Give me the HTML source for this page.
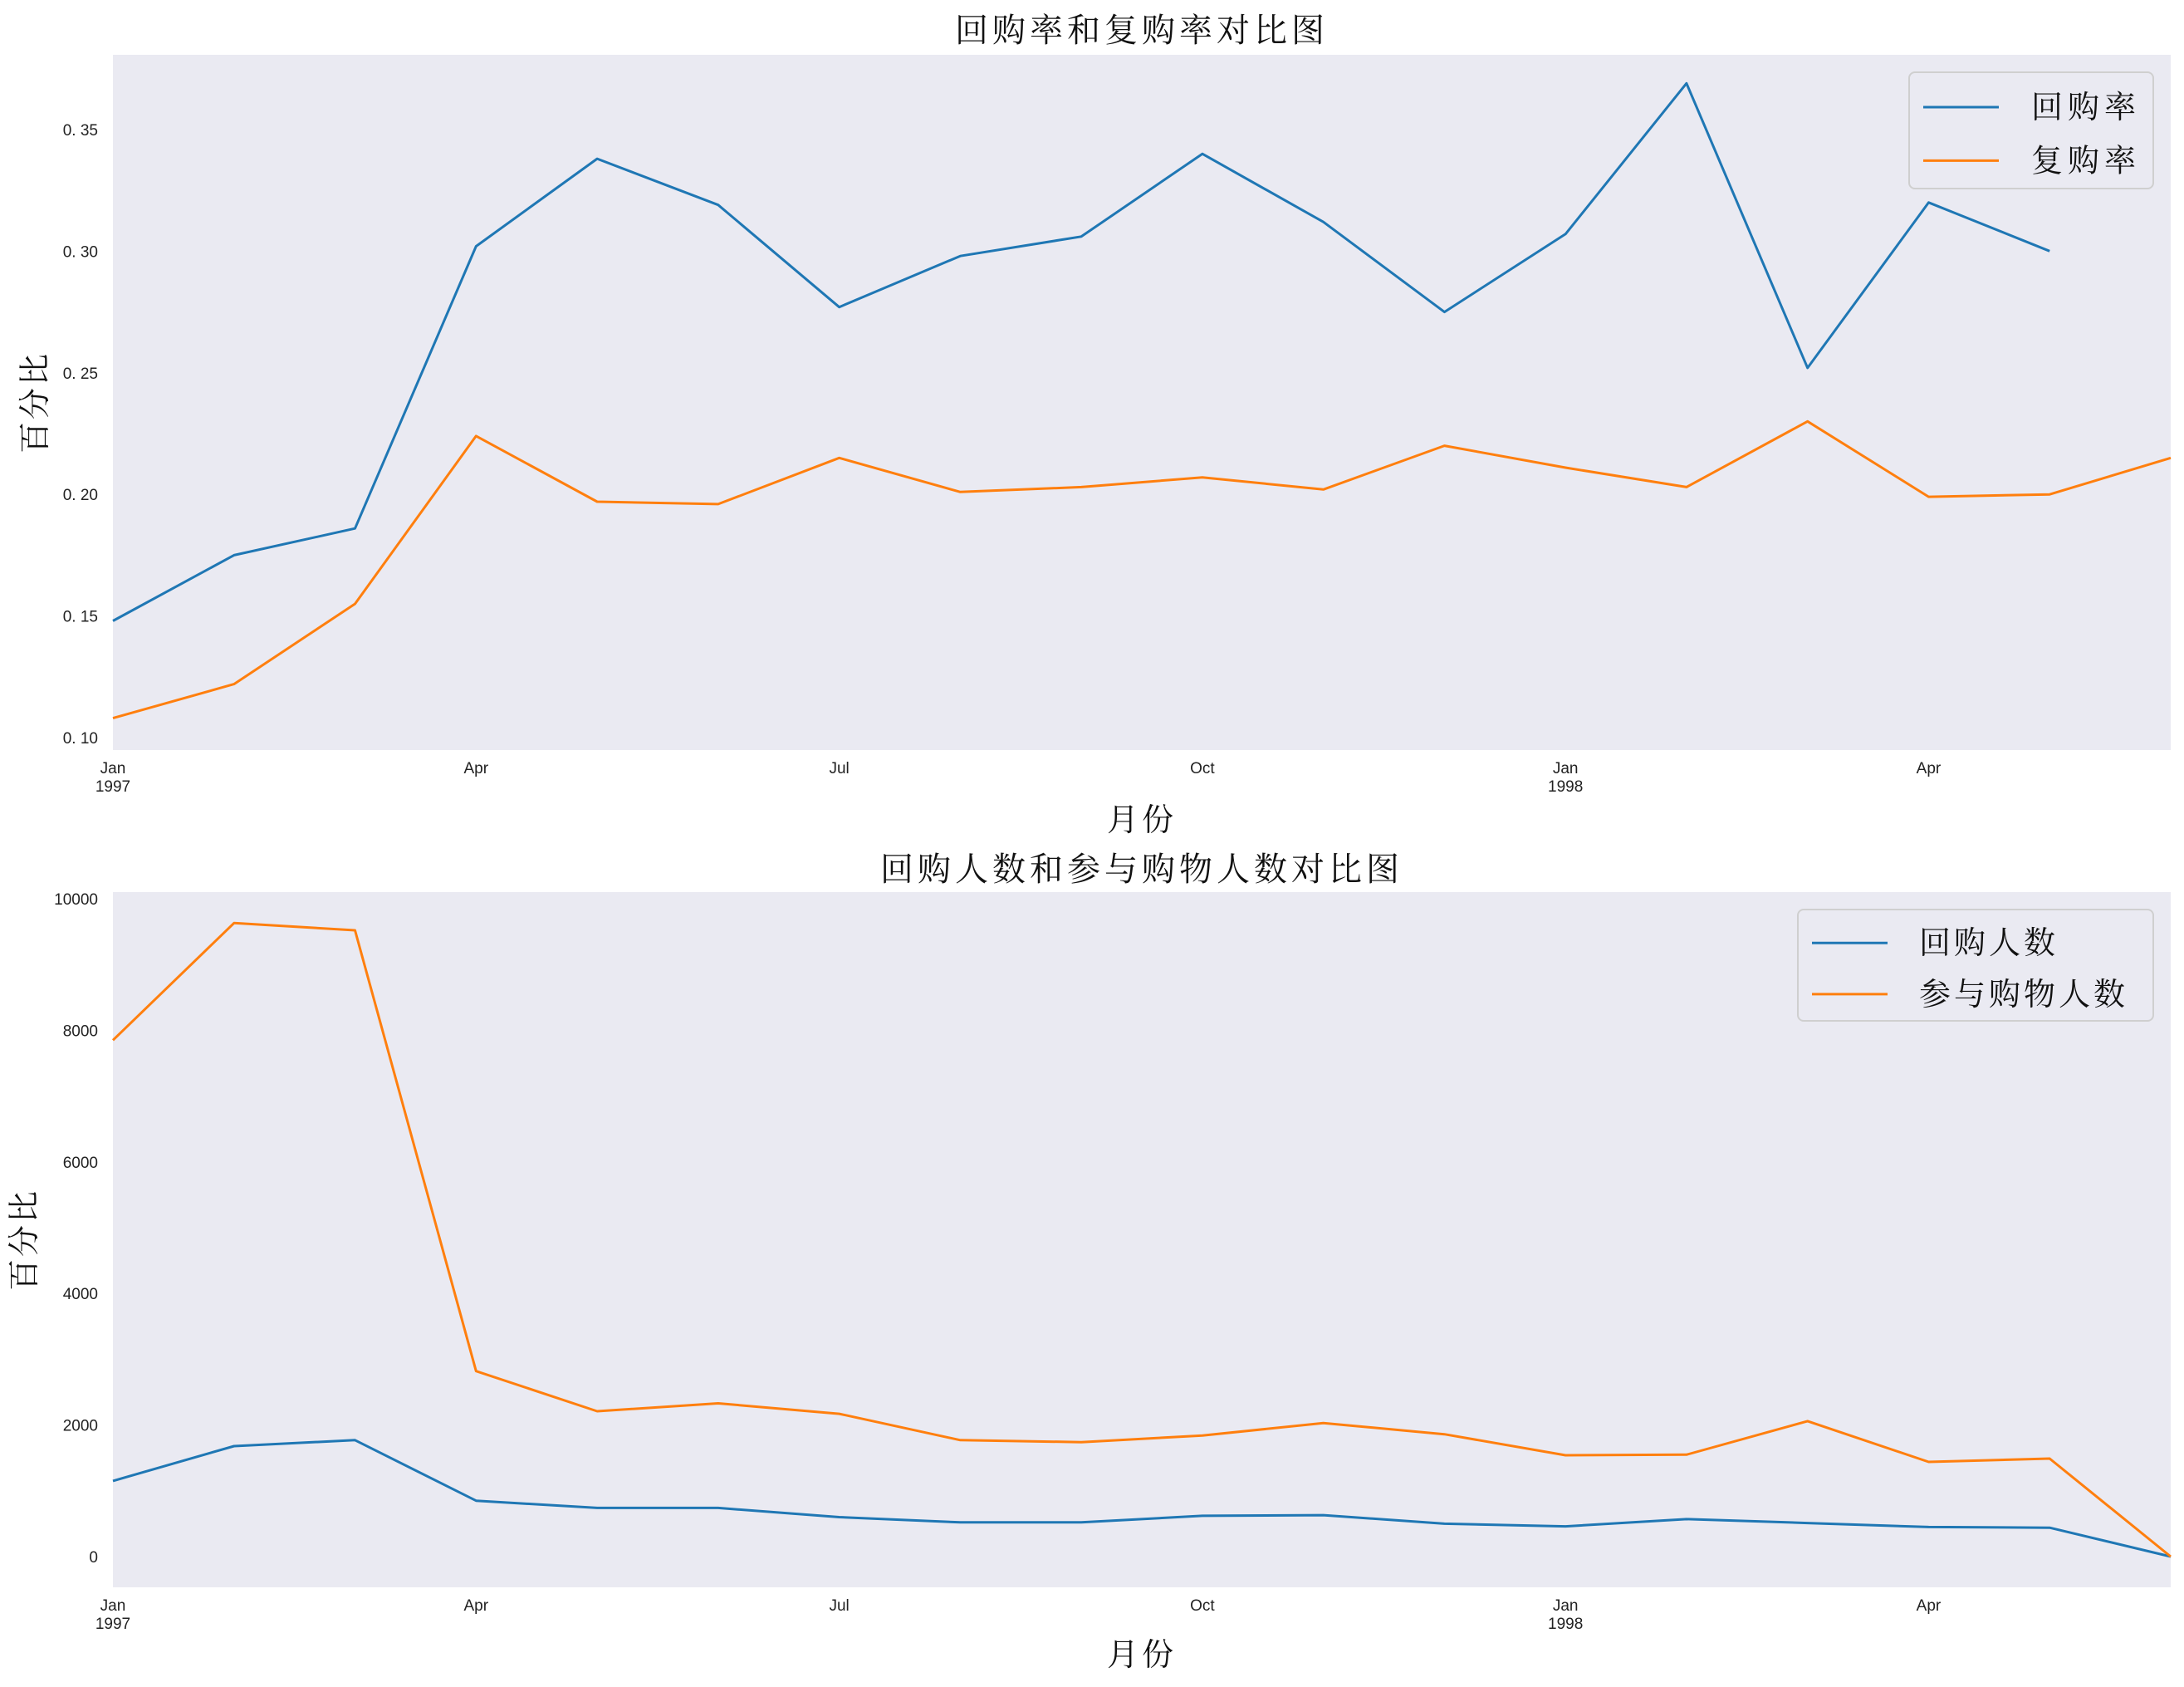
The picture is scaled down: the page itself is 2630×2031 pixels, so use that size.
<!DOCTYPE html>
<html><head><meta charset="utf-8"><style>
html,body{margin:0;padding:0;background:#fff;}
svg{display:block;}
.tick{font-family:"Liberation Sans","Noto Sans CJK SC",sans-serif;font-size:19px;fill:#222;}
.cjk{font-family:"Liberation Serif","Noto Serif CJK SC",serif;fill:#111;}
</style></head><body>
<svg id="chart" width="2630" height="2031" xmlns="http://www.w3.org/2000/svg">
</svg>
<script>
const months = ["1997-01","1997-02","1997-03","1997-04","1997-05","1997-06","1997-07","1997-08","1997-09","1997-10","1997-11","1997-12","1998-01","1998-02","1998-03","1998-04","1998-05","1998-06"];
const buybackRate = [0.148,0.175,0.186,0.302,0.338,0.319,0.277,0.298,0.306,0.340,0.312,0.275,0.307,0.369,0.252,0.320,0.300];
const repurchaseRate = [0.108,0.122,0.155,0.224,0.197,0.196,0.215,0.201,0.203,0.207,0.202,0.220,0.211,0.203,0.230,0.199,0.200,0.215];
const buybackUsers = [1150,1680,1770,850,740,740,600,520,520,620,630,500,460,570,510,450,440,0];
const shoppers = [7850,9630,9520,2820,2210,2330,2170,1770,1740,1840,2030,1860,1540,1550,2060,1440,1490,0];
const topTicks = [0.10,0.15,0.20,0.25,0.30,0.35];
const topTickLabels = ["0. 10","0. 15","0. 20","0. 25","0. 30","0. 35"];
const botTicks = [0,2000,4000,6000,8000,10000];
const xTickIdx = [0,3,6,9,12,15];
const xTickLabels = ["Jan","Apr","Jul","Oct","Jan","Apr"];
const xTickYears = ["1997","","","","1998",""];

const NS="http://www.w3.org/2000/svg";
const svg=document.getElementById('chart');
function el(tag,attrs,parent,text){const e=document.createElementNS(NS,tag);for(const k in attrs)e.setAttribute(k,attrs[k]);if(text!==undefined)e.textContent=text;(parent||svg).appendChild(e);return e;}

const X0=136,X1=2614;
function xs(i){return X0+(X1-X0)*i/17;}

function panel(cfg){
  const g=el('g',{});
  
  
  const ys=v=>cfg.top+(cfg.ymax-v)/(cfg.ymax-cfg.ymin)*(cfg.bot-cfg.top);
  const bg=el('rect',{x:X0,y:cfg.top,width:X1-X0,height:cfg.bot-cfg.top,fill:'#eaeaf2'},g);
  
  
  cfg.yticks.forEach((v,i)=>{
    const t=el('text',{x:X0-18,y:ys(v)+7,'text-anchor':'end',class:'tick'},g,cfg.ylabels[i]);
    
    
  });
  xTickIdx.forEach((m,i)=>{
    const t=el('text',{x:xs(m),y:cfg.bot+28,'text-anchor':'middle',class:'tick'},g,xTickLabels[i]);
    
    
    if(xTickYears[i]){
      const t2=el('text',{x:xs(m),y:cfg.bot+50,'text-anchor':'middle',class:'tick'},g,xTickYears[i]);
      
      
    }
  });
  cfg.series.forEach(s=>{
    const pts=s.data.map((v,i)=>xs(i).toFixed(1)+','+ys(v).toFixed(1)).join(' ');
    const p=el('polyline',{points:pts,fill:'none',stroke:s.color,'stroke-width':3,'stroke-linejoin':'round'},g);
    
    
  });
  const tt=el('text',{x:(X0+X1)/2,y:cfg.titleY,'text-anchor':'middle',class:'cjk','font-size':40,'letter-spacing':5},g,cfg.title);
  
  
  const xl=el('text',{x:(X0+X1)/2,y:cfg.xlabY,'text-anchor':'middle',class:'cjk','font-size':38,'letter-spacing':4},g,'月份');
  
  
  const cy=(cfg.top+cfg.bot)/2;
  const yl=el('text',{x:cfg.ylabX,y:cy,'text-anchor':'middle',class:'cjk','font-size':38,'letter-spacing':3,transform:`rotate(-90 ${cfg.ylabX} ${cy})`},g,'百分比');
  
  
  const L=cfg.legend;
  const lg=el('g',{},g);
  
  
  el('rect',{x:L.x,y:L.y,width:L.w,height:L.h,rx:7,fill:'#eaeaf2',stroke:'#cfcfcf','stroke-width':2},lg);
  cfg.series.forEach((s,i)=>{
    const yy=L.y+L.h*(0.3+0.46*i);
    el('line',{x1:L.x+17,x2:L.x+108,y1:yy,y2:yy,stroke:s.color,'stroke-width':3},lg);
    const t=el('text',{x:L.x+L.tx,y:yy+13,'text-anchor':'start',class:'cjk','font-size':38,'letter-spacing':L.ls},lg,s.label);
    
    
  });
}

panel({name:'rate-chart',top:66,bot:903,ymin:0.0949,ymax:0.3807,yticks:topTicks,ylabels:topTickLabels,
  title:'回购率和复购率对比图',titleY:50,xlabY:1000,ylabX:55,
  series:[{key:'buyback-rate-line',label:'回购率',color:'#1f77b4',data:buybackRate},{key:'repurchase-rate-line',label:'复购率',color:'#ff7f0e',data:repurchaseRate}],
  legend:{x:2299,y:87,w:294,h:140,tx:147,ls:6}});
panel({name:'count-chart',top:1074,bot:1911,ymin:-467,ymax:10101,yticks:botTicks,ylabels:botTicks.map(String),
  title:'回购人数和参与购物人数对比图',titleY:1060,xlabY:2005,ylabX:42,
  series:[{key:'buyback-users-line',label:'回购人数',color:'#1f77b4',data:buybackUsers},{key:'shoppers-line',label:'参与购物人数',color:'#ff7f0e',data:shoppers}],
  legend:{x:2165,y:1095,w:428,h:134,tx:146,ls:4}});
</script>
</body></html>
